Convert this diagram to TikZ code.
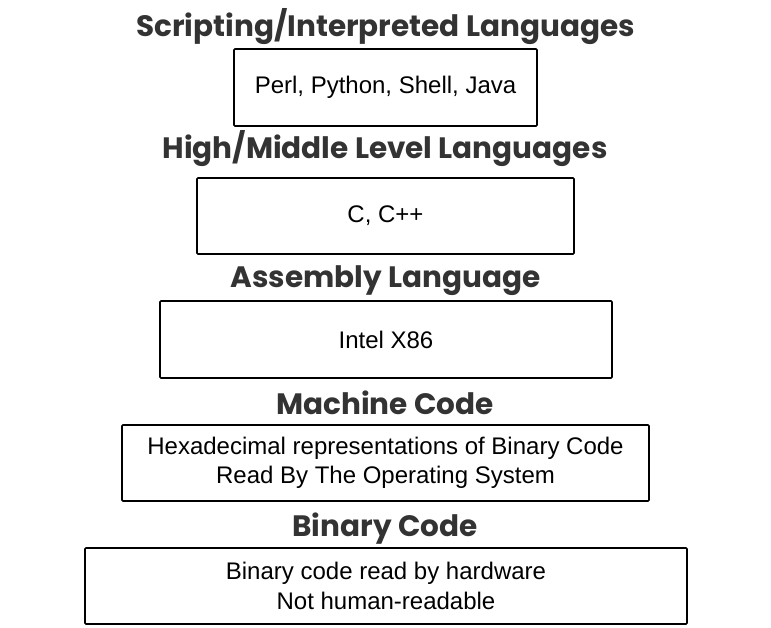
\documentclass[tikz,border=0pt]{standalone}
\usepackage{fontspec}
\setmainfont{Liberation Sans}
\newfontfamily\titlefont{Poppins}
\definecolor{titlegray}{HTML}{333333}
\begin{document}
\begin{tikzpicture}[x=1pt,y=-1pt,
  layerbox/.style={draw=black,line width=1.6pt,rounded corners=1pt,fill=white,
    inner sep=0pt,align=center,font=\fontsize{24}{29.5}\selectfont},
  layertitle/.style={text=titlegray,inner sep=0pt,anchor=base,font=\titlefont\bfseries\fontsize{29.5}{34}\selectfont}]
\useasboundingbox (0,0) rectangle (771,627);
\node[layertitle] (t1) at (385.5,36) {Scripting/Interpreted Languages};
\node[layerbox,minimum width=303pt,minimum height=77pt] (b1) at (385.5,87.5) {Perl, Python, Shell, Java};
\node[layertitle] (t2) at (385,158) {High/Middle Level Languages};
\node[layerbox,minimum width=377pt,minimum height=76pt] (b2) at (385.5,216) {C, C++};
\node[layertitle] (t3) at (385.5,287) {Assembly Language};
\node[layerbox,minimum width=452pt,minimum height=77pt] (b3) at (386,339.5) {Intel X86};
\node[layertitle] (t4) at (385,414) {Machine Code};
\node[layerbox,minimum width=527pt,minimum height=76pt] (b4) at (385.5,463) {Hexadecimal representations of Binary Code\\Read By The Operating System};
\node[layertitle] (t5) at (385,536) {Binary Code};
\node[layerbox,minimum width=602pt,minimum height=76pt] (b5) at (386,586) {Binary code read by hardware\\Not human-readable};
\end{tikzpicture}
\end{document}
